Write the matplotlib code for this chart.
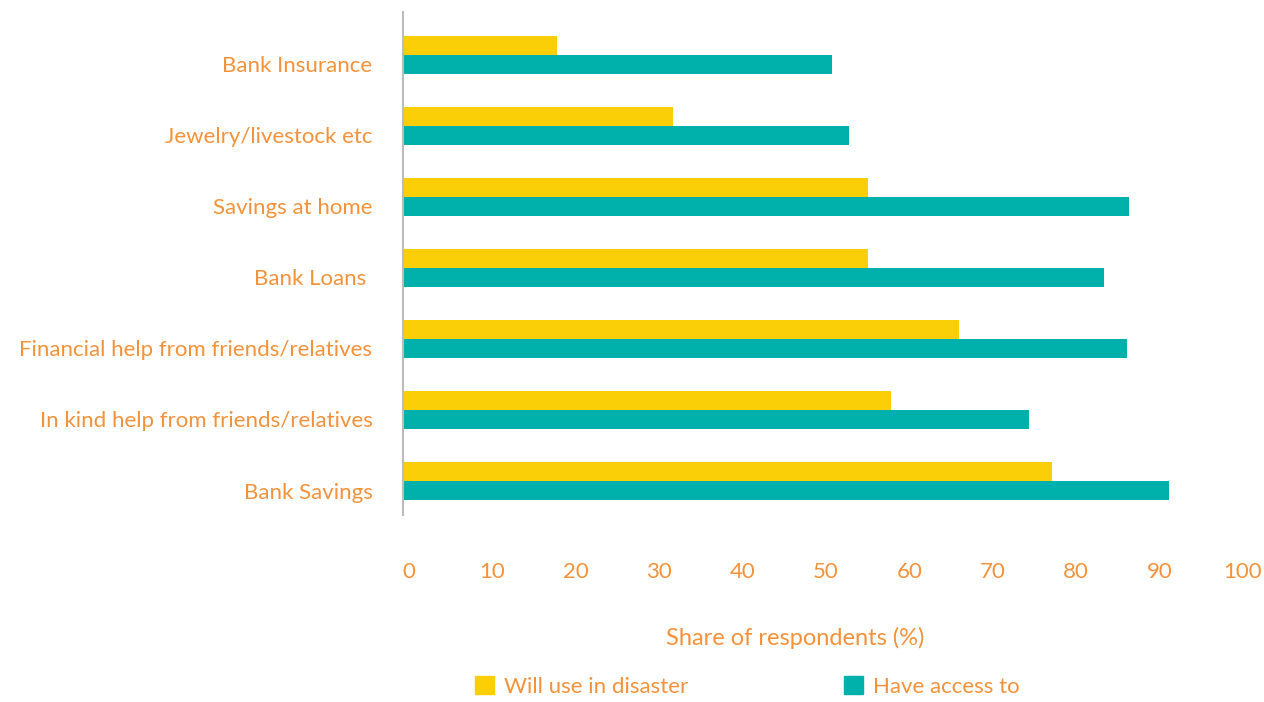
import matplotlib.pyplot as plt
import matplotlib.transforms as mtransforms
from matplotlib.patches import Patch

categories = [
    "Bank Insurance",
    "Jewelry/livestock etc",
    "Savings at home",
    "Bank Loans ",
    "Financial help from friends/relatives",
    "In kind help from friends/relatives",
    "Bank Savings",
]
will_use = [18.5, 32.4, 55.8, 55.8, 66.7, 58.5, 77.8]
have_access = [51.4, 53.5, 87.1, 84.1, 86.8, 75.1, 91.8]
x_ticks = [0, 10, 20, 30, 40, 50, 60, 70, 80, 90, 100]

yellow = "#FBCF07"
teal = "#00B0AA"
orange = "#F3923A"

plt.rcParams["font.family"] = ["Lato", "DejaVu Sans"]

W, H = 1264, 702
fig = plt.figure(figsize=(W / 100, H / 100), dpi=100)
# axes box in pixels: left 403, right 1237, top 12, bottom 515
ax = fig.add_axes([403 / W, 1 - 515 / H, 834 / W, (515 - 12) / H])

h = 0.267
ys = list(range(len(categories)))
ax.barh([y - h / 2 for y in ys], will_use, height=h, color=yellow)
ax.barh([y + h / 2 for y in ys], have_access, height=h, color=teal)

ax.set_ylim(len(categories) - 1 + 0.478, -0.6)
ax.set_xlim(0, 100)

ax.set_yticks([y + h / 2 for y in ys])
ax.set_yticklabels(categories, color=orange, fontsize=16)
ax.tick_params(axis="y", length=0, pad=22)

ax.set_xticks(x_ticks)
ax.set_xticklabels([str(t) for t in x_ticks], color=orange, fontsize=16)
ax.tick_params(axis="x", length=0, pad=34)
offset = mtransforms.ScaledTranslation(6 / 100, 0, fig.dpi_scale_trans)
for lbl in ax.get_xticklabels():
    lbl.set_transform(lbl.get_transform() + offset)

ax.set_xlabel("Share of respondents (%)", color=orange, fontsize=17, labelpad=32)
ax.xaxis.label.set_x(0.47)

for s in ["top", "right", "bottom"]:
    ax.spines[s].set_visible(False)
ax.spines["left"].set_color("#BBBBBB")
ax.spines["left"].set_linewidth(1.5)

handles = [Patch(color=yellow, label="Will use in disaster"),
           Patch(color=teal, label="Have access to")]
fig.legend(handles=handles, loc="upper left", bbox_to_anchor=(475 / W, 1 - 676 / H),
           ncol=2, frameon=False, fontsize=16, labelcolor=orange, borderpad=0,
           borderaxespad=0, handlelength=0.85, handleheight=0.85, handletextpad=0.45,
           columnspacing=7.0)

fig.savefig("out.png", dpi=100)
